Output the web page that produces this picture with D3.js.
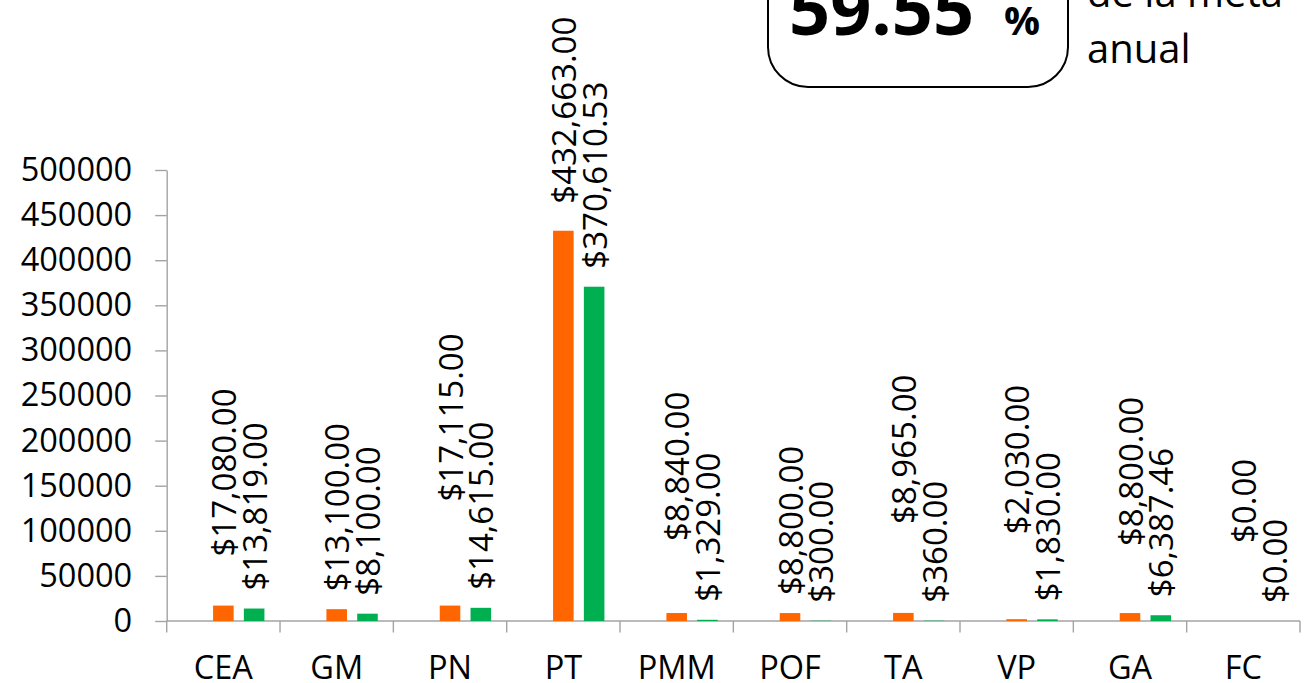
<!DOCTYPE html>
<html>
<head>
<meta charset="utf-8">
<script src="https://cdn.jsdelivr.net/npm/d3@7"></script>
<style>
  html, body { margin: 0; padding: 0; background: #fff; overflow: hidden; }
  svg { display: block; font-family: 'Open Sans', 'Noto Sans', sans-serif; }
</style>
</head>
<body>
<svg id="chart"></svg>
<script>
// datos de la grafica
const categories = ['CEA', 'GM', 'PN', 'PT', 'PMM', 'POF', 'TA', 'VP', 'GA', 'FC'];
const orangeValues = [17080, 13100, 17115, 432663, 8840, 8800, 8965, 2030, 8800, 0];
const greenValues = [13819, 8100, 14615, 370610.53, 1329, 300, 360, 1830, 6387.46, 0];
const yTicks = [0, 50000, 100000, 150000, 200000, 250000, 300000, 350000, 400000, 450000, 500000];
const percentText = '59.55';
const noteLines = ['de la meta', 'anual'];

// desplazamiento extra hacia arriba de las etiquetas naranjas (puestas a mano en el original)
const orangeLabelLift = [31, 0, 86, 9, 54, 0, 71, 67, 49, 60];

const width = 1308;
const height = 683;
const fontFamily = "'Open Sans', 'Noto Sans', sans-serif";

const svg = d3.select('#chart')
  .attr('width', width)
  .attr('height', height);

// escalas
const x0 = d3.scaleBand()
  .domain(categories)
  .range([166.7, 1300]);

// tres huecos por grupo: el primero es una serie vacia, como en el original
const x1 = d3.scaleBand()
  .domain(['vacia', 'naranja', 'verde'])
  .range([15.6, x0.bandwidth() - 15.6])
  .paddingInner(0.332);

const y = d3.scaleLinear()
  .domain([0, 500000])
  .range([621, 170]);

const axisColor = '#a3a3a3';

// eje y
const yAxis = svg.append('g')
  .attr('transform', `translate(${x0.range()[0]},0)`)
  .call(d3.axisLeft(y)
    .tickValues(yTicks)
    .tickFormat(d3.format('d'))
    .tickSize(11.5)
    .tickSizeOuter(0)
    .tickPadding(23))
  .attr('font-family', fontFamily)
  .attr('font-size', null);

yAxis.select('.domain').attr('stroke', axisColor).attr('stroke-width', 1.4);
yAxis.selectAll('.tick line').attr('stroke', axisColor).attr('stroke-width', 1.4);
yAxis.selectAll('.tick text')
  .attr('fill', '#000')
  .style('font-size', '32.5px');

// eje x (marcas entre categorias)
const xAxis = svg.append('g');
xAxis.append('line')
  .attr('x1', x0.range()[0])
  .attr('x2', x0.range()[1])
  .attr('y1', y(0))
  .attr('y2', y(0))
  .attr('stroke', axisColor)
  .attr('stroke-width', 1.4);

const xTickPos = categories.map(c => x0(c)).concat([x0.range()[1]]);
xAxis.selectAll('.xtick')
  .data(xTickPos)
  .enter()
  .append('line')
  .attr('x1', d => d)
  .attr('x2', d => d)
  .attr('y1', y(0))
  .attr('y2', y(0) + 11.5)
  .attr('stroke', axisColor)
  .attr('stroke-width', 1.4);

xAxis.selectAll('.xlabel')
  .data(categories)
  .enter()
  .append('text')
  .attr('x', d => x0(d) + x0.bandwidth() / 2)
  .attr('y', 678.5)
  .attr('text-anchor', 'middle')
  .style('font-size', '32.5px')
  .text(d => d);

// barras
const series = [
  { key: 'naranja', values: orangeValues, color: '#ff6600' },
  { key: 'verde', values: greenValues, color: '#00b050' }
];

const money = d3.format('$,.2f');

series.forEach(s => {
  svg.append('g').selectAll('rect')
    .data(s.values)
    .enter()
    .append('rect')
    .attr('x', (d, i) => x0(categories[i]) + x1(s.key))
    .attr('y', d => y(d))
    .attr('width', x1.bandwidth())
    .attr('height', d => y(0) - y(d))
    .attr('fill', s.color);

  // etiquetas de valor giradas
  svg.append('g').selectAll('text')
    .data(s.values)
    .enter()
    .append('text')
    .attr('transform', (d, i) => {
      const cx = x0(categories[i]) + x1(s.key) + x1.bandwidth() / 2;
      const lift = s.key === 'naranja' ? orangeLabelLift[i] : 0;
      return `translate(${cx},${y(d) - 18 - lift}) rotate(-90)`;
    })
    .attr('text-anchor', 'start')
    .attr('dominant-baseline', 'central')
    .style('font-size', '33px')
    .text(d => money(d));
});

// recuadro con el porcentaje
svg.append('rect')
  .attr('x', 768)
  .attr('y', -60)
  .attr('width', 300)
  .attr('height', 147)
  .attr('rx', 40)
  .attr('ry', 40)
  .attr('fill', 'none')
  .attr('stroke', '#000')
  .attr('stroke-width', 2);

svg.append('text')
  .attr('x', 789)
  .attr('y', 35)
  .style('font-size', '72px')
  .style('font-weight', 700)
  .text(percentText);

svg.append('text')
  .attr('x', 1004)
  .attr('y', 35)
  .style('font-size', '40px')
  .style('font-weight', 700)
  .text('%');

svg.append('g').selectAll('text')
  .data(noteLines)
  .enter()
  .append('text')
  .attr('x', 1087)
  .attr('y', (d, i) => 7 + i * 56)
  .style('font-size', '40px')
  .text(d => d);
</script>
</body>
</html>
